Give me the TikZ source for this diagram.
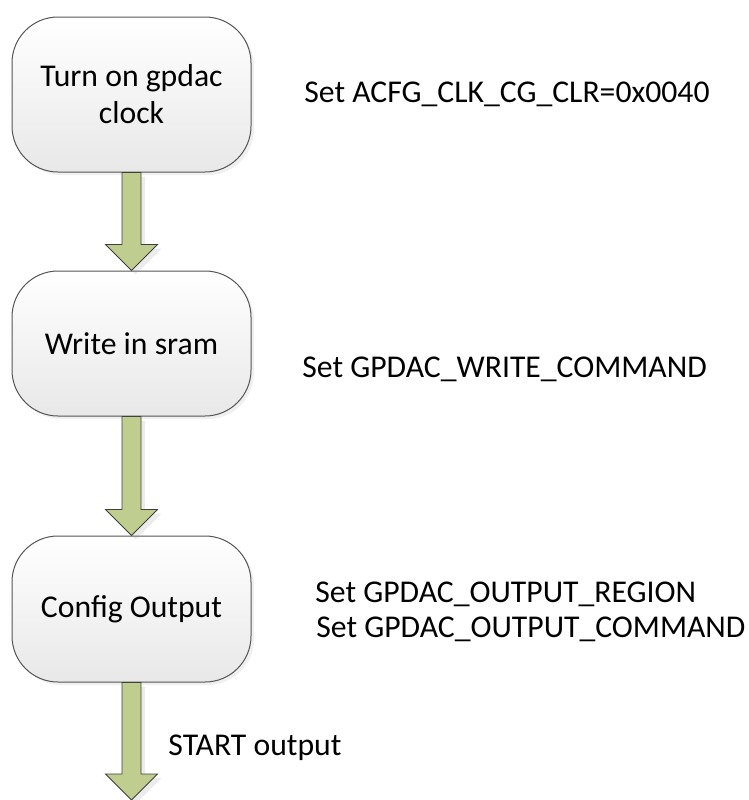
\documentclass[tikz,border=0pt]{standalone}
\usepackage{fontspec}
\setmainfont{Carlito}
\usetikzlibrary{calc,shadows}
\definecolor{arrowgreen}{HTML}{BFCD8F}
\definecolor{edgegray}{HTML}{555555}
\newcommand\flowarrow[2]{%
  \path[flowarrowsty] let \p1=(#1), \p2=(#2) in
    (\x1-4.75pt,\y1) -- (\x1-4.75pt,\y2+13pt) -- (\x1-13pt,\y2+13pt) --
    (\x2,\y2) -- (\x1+13pt,\y2+13pt) -- (\x1+4.75pt,\y2+13pt) --
    (\x1+4.75pt,\y1) -- cycle;}
\tikzset{
  stepbox/.style={draw=edgegray, line width=0.5pt, rounded corners=23pt,
    top color=white, bottom color=black!9, minimum width=119.5pt,
    align=center, inner sep=0pt,
    drop shadow={shadow xshift=1.5pt, shadow yshift=-1.5pt, opacity=0.12}},
  flowarrowsty/.style={draw=black!75, line width=0.4pt, fill=arrowgreen,
    line join=miter,
    drop shadow={shadow xshift=2pt, shadow yshift=-2pt, opacity=0.15}},
  note/.style={anchor=base west, inner sep=0pt},
}
\begin{document}
\begin{tikzpicture}[x=0.5pt,y=-0.5pt,font=\fontsize{15.85pt}{18.5pt}\selectfont]
\useasboundingbox (0,0) rectangle (749,800);
\node[stepbox, minimum height=77.5pt] (b1) at (131.5,94.5) {Turn on gpdac\\clock};
\node[stepbox, minimum height=72.5pt] (b2) at (131.5,343.5) {Write in sram};
\node[stepbox, minimum height=73pt] (b3) at (131.5,609) {Config Output};
\coordinate (end) at (131.5,800);
\flowarrow{b1.south}{b2.north}
\flowarrow{b2.south}{b3.north}
\flowarrow{b3.south}{end}
\node[note] (n1) at (304,102) {Set ACFG\_CLK\_CG\_CLR=0x0040};
\node[note] (n2) at (302,377) {Set GPDAC\_WRITE\_COMMAND};
\node[note] (n3) at (315,602) {Set GPDAC\_OUTPUT\_REGION};
\node[note] (n4) at (316,637) {Set GPDAC\_OUTPUT\_COMMAND};
\node[note] (n5) at (168,755) {START output};
\end{tikzpicture}
\end{document}
